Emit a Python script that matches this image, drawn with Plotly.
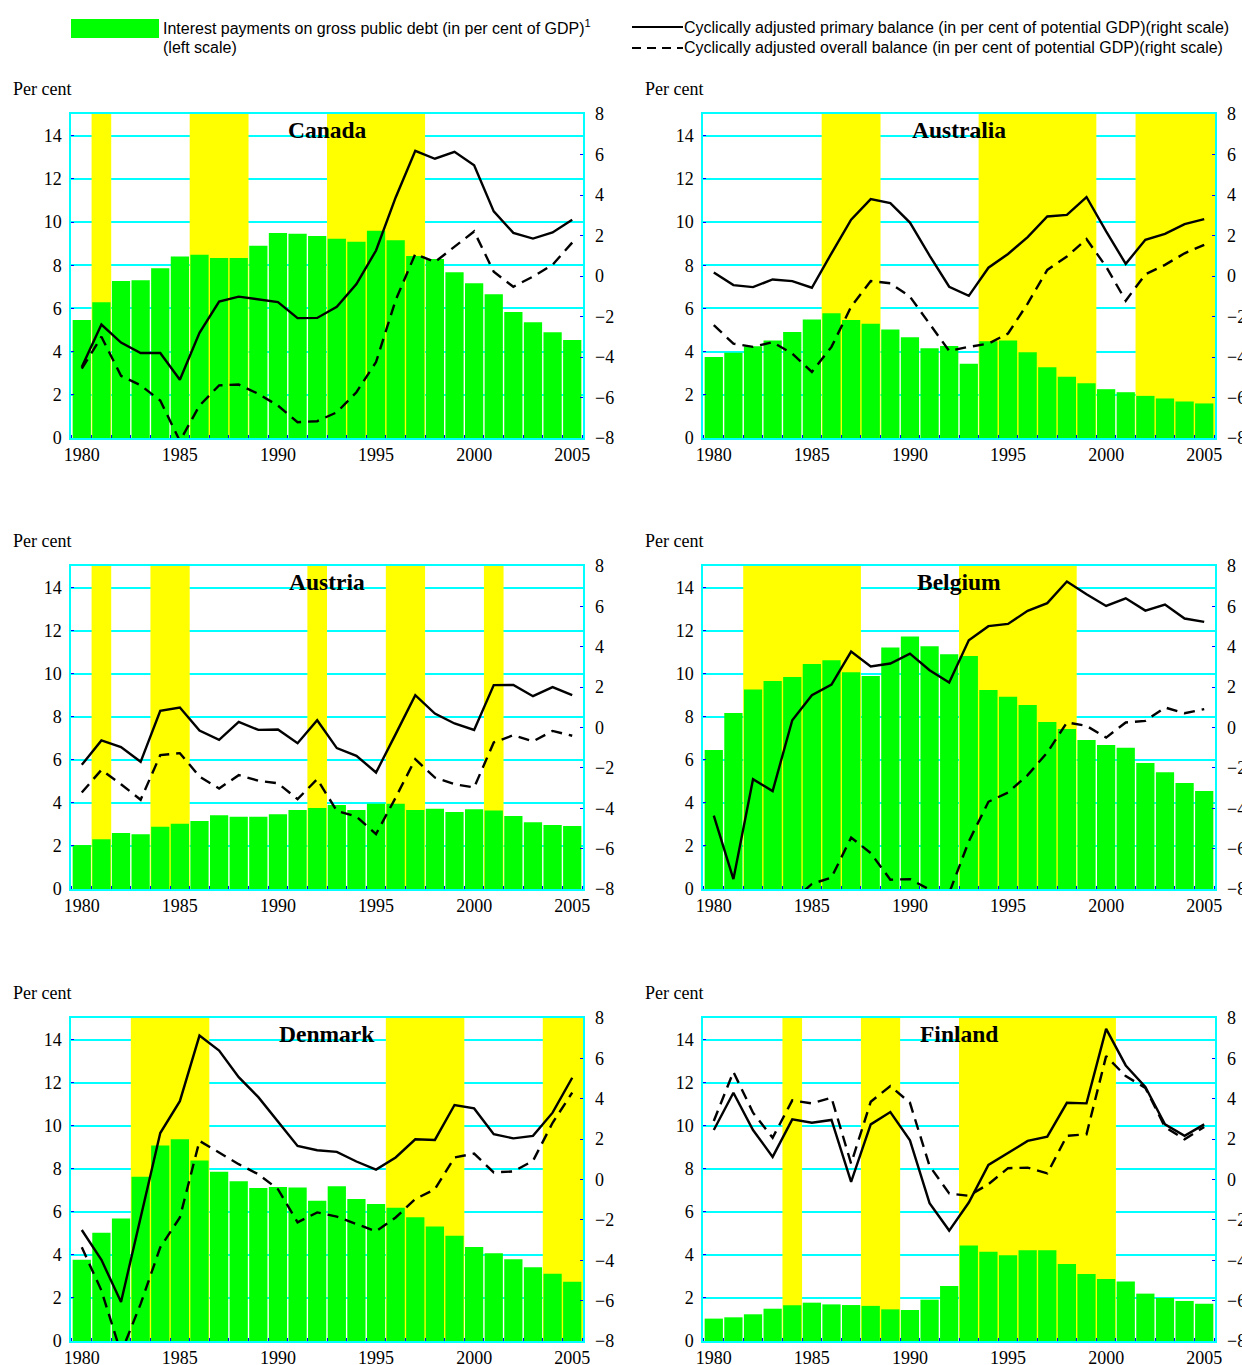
import plotly.graph_objects as go

# ---------------------------------------------------------------- data
years = list(range(1980, 2006))

canada_interest = [5.46, 6.28, 7.27, 7.30, 7.86, 8.40, 8.48, 8.33, 8.33, 8.90, 9.49, 9.46, 9.35,
                   9.22, 9.09, 9.60, 9.16, 8.43, 8.29, 7.67, 7.16, 6.65, 5.83, 5.36, 4.90, 4.54]
canada_primary = [-4.50, -2.40, -3.29, -3.80, -3.80, -5.12, -2.81, -1.26, -1.02, -1.16, -1.29, -2.08, -2.07,
                  -1.52, -0.40, 1.26, 3.88, 6.18, 5.79, 6.13, 5.47, 3.19, 2.13, 1.85, 2.15, 2.78]
canada_overall = [-4.58, -3.00, -4.93, -5.40, -6.15, -8.15, -6.40, -5.40, -5.36, -5.82, -6.40, -7.22, -7.17,
                  -6.73, -5.74, -4.25, -1.19, 1.09, 0.69, 1.45, 2.20, 0.21, -0.53, -0.03, 0.55, 1.65]
canada_shading = [(1980.5, 1981.5), (1985.5, 1988.5), (1992.5, 1997.5)]

australia_interest = [3.75, 3.95, 4.25, 4.51, 4.91, 5.49, 5.78, 5.46, 5.29, 5.02, 4.67, 4.16, 4.26,
                      3.44, 4.48, 4.51, 3.97, 3.27, 2.84, 2.53, 2.26, 2.12, 1.95, 1.83, 1.69, 1.60]
australia_primary = [0.17, -0.45, -0.55, -0.17, -0.25, -0.58, 1.12, 2.78, 3.80, 3.60, 2.64, 1.01, -0.53,
                     -0.98, 0.41, 1.09, 1.92, 2.94, 3.02, 3.90, 2.20, 0.60, 1.79, 2.08, 2.56, 2.81]
australia_overall = [-2.43, -3.34, -3.50, -3.27, -3.83, -4.74, -3.50, -1.52, -0.25, -0.36, -1.02, -2.35, -3.70,
                     -3.50, -3.34, -2.84, -1.36, 0.30, 0.96, 1.82, 0.46, -1.22, 0.08, 0.55, 1.12, 1.54]
australia_shading = [(1985.5, 1988.5), (1993.5, 1999.5), (2001.5, 2005.6)]

austria_interest = [2.04, 2.31, 2.60, 2.54, 2.89, 3.03, 3.16, 3.42, 3.36, 3.36, 3.47, 3.67, 3.76,
                    3.90, 3.67, 3.96, 3.96, 3.67, 3.73, 3.58, 3.70, 3.64, 3.39, 3.10, 2.97, 2.93]
austria_primary = [-1.85, -0.64, -0.97, -1.70, 0.83, 0.99, -0.15, -0.61, 0.28, -0.12, -0.10, -0.78, 0.36,
                   -1.02, -1.40, -2.23, -0.33, 1.60, 0.69, 0.20, -0.12, 2.10, 2.11, 1.55, 2.00, 1.60]
austria_overall = [-3.22, -2.10, -2.81, -3.58, -1.37, -1.27, -2.43, -3.02, -2.36, -2.64, -2.76, -3.55, -2.56,
                   -4.13, -4.41, -5.28, -3.47, -1.57, -2.48, -2.81, -2.97, -0.74, -0.38, -0.69, -0.17, -0.41]
austria_shading = [(1980.5, 1981.5), (1983.5, 1985.5), (1991.5, 1992.5), (1995.5, 1997.5), (2000.5, 2001.5)]

belgium_interest = [6.46, 8.17, 9.27, 9.66, 9.85, 10.45, 10.62, 10.06, 9.89, 11.21, 11.73, 11.27, 10.90,
                    10.82, 9.24, 8.93, 8.54, 7.76, 7.43, 6.92, 6.69, 6.56, 5.85, 5.42, 4.92, 4.55]
belgium_primary = [-4.37, -7.51, -2.56, -3.15, 0.36, 1.60, 2.13, 3.76, 3.02, 3.17, 3.66, 2.84, 2.23,
                   4.32, 5.02, 5.13, 5.78, 6.16, 7.23, 6.60, 6.02, 6.40, 5.79, 6.09, 5.40, 5.23]
belgium_overall = [-9.5, -12.5, -10.5, -11.0, -8.6, -7.75, -7.43, -5.45, -6.22, -7.54, -7.51, -8.03, -8.2,
                   -5.64, -3.68, -3.22, -2.36, -1.24, 0.25, 0.08, -0.50, 0.25, 0.33, 0.99, 0.71, 0.91]
belgium_shading = [(1981.5, 1987.5), (1992.5, 1998.5)]

denmark_interest = [3.77, 5.03, 5.69, 7.63, 9.08, 9.37, 8.38, 7.86, 7.42, 7.10, 7.15, 7.13, 6.51,
                    7.19, 6.59, 6.36, 6.19, 5.75, 5.32, 4.89, 4.36, 4.08, 3.80, 3.43, 3.12, 2.75]
denmark_primary = [-2.50, -3.98, -6.07, -1.96, 2.30, 3.88, 7.13, 6.39, 5.07, 4.08, 2.86, 1.66, 1.45,
                   1.37, 0.89, 0.49, 1.09, 1.99, 1.96, 3.69, 3.52, 2.24, 2.04, 2.16, 3.31, 5.04]
denmark_overall = [-3.36, -5.50, -8.60, -6.16, -3.36, -1.88, 1.91, 1.33, 0.76, 0.26, -0.48, -2.12, -1.63,
                   -1.84, -2.21, -2.57, -1.88, -0.97, -0.48, 1.09, 1.28, 0.35, 0.40, 0.92, 2.81, 4.30]
denmark_shading = [(1982.5, 1986.5), (1995.5, 1999.5), (2003.5, 2005.6)]

finland_interest = [1.04, 1.10, 1.24, 1.50, 1.66, 1.78, 1.70, 1.67, 1.63, 1.47, 1.44, 1.92, 2.55,
                    4.43, 4.15, 3.98, 4.21, 4.21, 3.58, 3.11, 2.88, 2.76, 2.20, 2.00, 1.86, 1.73]
finland_primary = [2.45, 4.30, 2.45, 1.12, 2.98, 2.81, 2.95, -0.12, 2.73, 3.34, 1.94, -1.17, -2.53,
                   -1.14, 0.72, 1.33, 1.91, 2.12, 3.80, 3.77, 7.46, 5.65, 4.59, 2.73, 2.16, 2.73]
finland_overall = [2.90, 5.33, 3.31, 2.07, 3.92, 3.77, 4.05, 0.79, 3.85, 4.63, 3.80, 0.67, -0.69,
                   -0.81, -0.23, 0.56, 0.59, 0.30, 2.16, 2.24, 6.11, 5.12, 4.54, 2.60, 1.99, 2.60]
finland_shading = [(1983.5, 1984.5), (1987.5, 1989.5), (1992.5, 2000.5)]

country_names = ["Canada", "Australia", "Austria", "Belgium", "Denmark", "Finland"]
interest_series = [canada_interest, australia_interest, austria_interest,
                   belgium_interest, denmark_interest, finland_interest]
primary_series = [canada_primary, australia_primary, austria_primary,
                  belgium_primary, denmark_primary, finland_primary]
overall_series = [canada_overall, australia_overall, austria_overall,
                  belgium_overall, denmark_overall, finland_overall]
shading_periods = [canada_shading, australia_shading, austria_shading,
                   belgium_shading, denmark_shading, finland_shading]

left_ticks = [0, 2, 4, 6, 8, 10, 12, 14]
right_ticks = [-8, -6, -4, -2, 0, 2, 4, 6, 8]
year_ticks = [1980, 1985, 1990, 1995, 2000, 2005]
LEFT_MAX = 15
RIGHT_MIN, RIGHT_MAX = -8, 8

# ---------------------------------------------------------------- geometry (pixels)
W, H = 1242, 1365
col_left = [71, 703]
plot_w = 512
row_top = [114, 566, 1018]
plot_h = [324, 323, 323]

GREEN = "#00FF00"
YELLOW = "#FFFF00"
CYAN = "#00FFFF"
BLUE = "#0000FF"
SERIF = "Liberation Serif, Times New Roman, serif"
SANS = "Liberation Sans, Arial, sans-serif"
TICK_SIZE = 18


def fx(px):
    return px / W


def fy(py):
    return 1 - py / H


fig = go.Figure()
annotations = []
layout_axes = {}

for i, name in enumerate(country_names):
    r, c = divmod(i, 2)
    xid = i + 1
    yl = 2 * i + 1
    yr = 2 * i + 2
    xname = "x" if xid == 1 else f"x{xid}"
    ylname = "y" if yl == 1 else f"y{yl}"
    yrname = f"y{yr}"

    x0, x1 = col_left[c], col_left[c] + plot_w
    y0, y1 = row_top[r], row_top[r] + plot_h[r]

    # shaded periods: full-height yellow columns behind the data
    bands = shading_periods[i]
    fig.add_trace(go.Bar(x=[(a + b) / 2 for a, b in bands], y=[LEFT_MAX] * len(bands),
                         width=[b - a for a, b in bands], xaxis=xname, yaxis=ylname,
                         marker=dict(color=YELLOW, line=dict(width=0)),
                         showlegend=False, hoverinfo="skip"))
    fig.add_trace(go.Bar(x=years, y=interest_series[i], xaxis=xname, yaxis=ylname,
                         marker=dict(color=GREEN, line=dict(width=0)), width=0.93,
                         showlegend=False, hoverinfo="x+y"))
    fig.add_trace(go.Scatter(x=years, y=primary_series[i], xaxis=xname, yaxis=yrname,
                             mode="lines", line=dict(color="black", width=2.4),
                             showlegend=False))
    fig.add_trace(go.Scatter(x=years, y=overall_series[i], xaxis=xname, yaxis=yrname,
                             mode="lines", line=dict(color="black", width=2.4, dash="11px,7px"),
                             showlegend=False))

    layout_axes[f"xaxis{'' if xid == 1 else xid}"] = dict(
        domain=[fx(x0), fx(x1)], anchor=ylname, range=[1979.45, 2005.55],
        tickvals=year_ticks, ticks="", showgrid=False, zeroline=False,
        showline=True, mirror=True, linecolor=CYAN, linewidth=1.5,
        tickfont=dict(family=SERIF, size=TICK_SIZE, color="black"),
        minor=dict(ticks="inside", tick0=1979.5, dtick=1, ticklen=3,
                   tickcolor=BLUE, showgrid=False),
        automargin=False, fixedrange=True)
    layout_axes[f"yaxis{'' if yl == 1 else yl}"] = dict(
        domain=[fy(y1), fy(y0)], anchor=xname, range=[0, LEFT_MAX],
        tickvals=left_ticks, ticks="inside", ticklen=3, tickcolor=BLUE,
        showgrid=True, gridcolor=CYAN, gridwidth=1.5, zeroline=False,
        showline=True, mirror=True, linecolor=CYAN, linewidth=1.5,
        tickfont=dict(family=SERIF, size=TICK_SIZE, color="black"),
        ticklabelstandoff=4, automargin=False, fixedrange=True)
    layout_axes[f"yaxis{yr}"] = dict(
        overlaying=ylname, anchor=xname, side="right", range=[RIGHT_MIN, RIGHT_MAX],
        tickvals=right_ticks, ticks="inside", ticklen=3, tickcolor=BLUE,
        showgrid=False, zeroline=False, showline=False,
        tickfont=dict(family=SERIF, size=TICK_SIZE, color="black"),
        ticklabelstandoff=11, automargin=False, fixedrange=True)

    annotations.append(dict(text=f"<b>{name}</b>", xref="paper", yref="paper",
                            x=fx((x0 + x1) / 2), y=fy(y0 + 16), xanchor="center",
                            yanchor="middle", showarrow=False,
                            font=dict(family=SERIF, size=23.5, color="black")))
    annotations.append(dict(text="Per cent", xref="paper", yref="paper",
                            x=fx(col_left[c] - 60), y=fy(y0 - 25), xanchor="left",
                            yanchor="middle", showarrow=False,
                            font=dict(family=SERIF, size=18, color="black")))

# ---------------------------------------------------------------- legend
# a hidden strip across the top, scaled in pixels, carries the legend keys
LEG_TOP, LEG_BOTTOM = 8, 60
layout_axes["xaxis7"] = dict(domain=[0, 1], range=[0, W], visible=False, fixedrange=True,
                             anchor="y13")
layout_axes["yaxis13"] = dict(domain=[fy(LEG_BOTTOM), fy(LEG_TOP)], range=[LEG_BOTTOM, LEG_TOP],
                              visible=False, fixedrange=True, anchor="x7")
fig.add_trace(go.Scatter(x=[71, 159, 159, 71, 71], y=[19, 19, 38, 38, 19], xaxis="x7", yaxis="y13",
                         mode="lines", fill="toself", fillcolor=GREEN, line=dict(width=0, color=GREEN),
                         showlegend=False, hoverinfo="skip"))
fig.add_trace(go.Scatter(x=[632, 683], y=[27, 27], xaxis="x7", yaxis="y13", mode="lines",
                         line=dict(color="black", width=2), showlegend=False, hoverinfo="skip"))
fig.add_trace(go.Scatter(x=[632, 683], y=[48, 48], xaxis="x7", yaxis="y13", mode="lines",
                         line=dict(color="black", width=2, dash="9px,6px"),
                         showlegend=False, hoverinfo="skip"))

legend_font = dict(family=SANS, size=16, color="black")
annotations.append(dict(text="Interest payments on gross public debt (in per cent of GDP)<sup>1</sup>",
                        xref="paper", yref="paper", x=fx(161), y=fy(27),
                        xanchor="left", yanchor="middle", showarrow=False, font=legend_font))
annotations.append(dict(text="(left scale)", xref="paper", yref="paper", x=fx(161), y=fy(48),
                        xanchor="left", yanchor="middle", showarrow=False, font=legend_font))
annotations.append(dict(text="Cyclically adjusted primary balance (in per cent of potential GDP)(right scale)",
                        xref="paper", yref="paper", x=fx(682), y=fy(27),
                        xanchor="left", yanchor="middle", showarrow=False, font=legend_font))
annotations.append(dict(text="Cyclically adjusted overall balance (in per cent of potential GDP)(right scale)",
                        xref="paper", yref="paper", x=fx(682), y=fy(48),
                        xanchor="left", yanchor="middle", showarrow=False, font=legend_font))

# fixed margins: nothing is allowed to push the plotting area inwards
fig.update_layout(width=W, height=H, autosize=False,
                  margin=dict(l=0, r=0, t=0, b=0, pad=0, autoexpand=False),
                  paper_bgcolor="white", plot_bgcolor="rgba(0,0,0,0)",
                  barmode="overlay", showlegend=False,
                  annotations=annotations, **layout_axes)

fig.write_html("out.html", config={"displayModeBar": False})
